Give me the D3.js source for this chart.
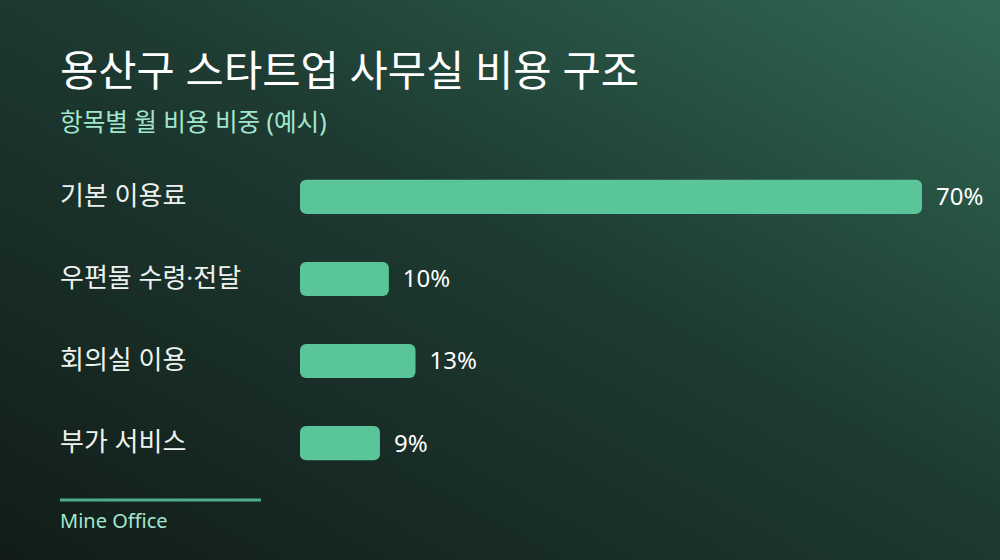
<!DOCTYPE html>
<html>
<head>
<meta charset="utf-8">
<script src="https://cdn.jsdelivr.net/npm/d3@7"></script>
<style>
  html, body { margin: 0; padding: 0; background: #13211d; }
  svg { display: block; font-family: "Noto Sans", "Noto Sans CJK KR", sans-serif; }
</style>
</head>
<body>
<div id="chart"></div>
<script>
// chart data
const categories = ['기본 이용료', '우편물 수령·전달', '회의실 이용', '부가 서비스'];
const shares = [70, 10, 13, 9];
const titleText = '용산구 스타트업 사무실 비용 구조';
const subtitleText = '항목별 월 비용 비중 (예시)';
const sourceText = 'Mine Office';

const width = 1000, height = 560;

const svg = d3.select('#chart')
    .append('svg')
    .attr('width', width)
    .attr('height', height);

// background gradient, lighter at top right
const defs = svg.append('defs');
const bg = defs.append('linearGradient')
    .attr('id', 'bg')
    .attr('x1', '1').attr('y1', '0')
    .attr('x2', '0').attr('y2', '1');
bg.append('stop').attr('offset', '0%').attr('stop-color', '#306853');
bg.append('stop').attr('offset', '45%').attr('stop-color', '#1e3b32');
bg.append('stop').attr('offset', '100%').attr('stop-color', '#111c18');

svg.append('rect')
    .attr('width', width)
    .attr('height', height)
    .attr('fill', 'url(#bg)');

svg.append('text')
    .attr('x', 60).attr('y', 86)
    .attr('fill', '#ffffff')
    .attr('font-size', 41.6)
    .attr('font-weight', 400)
    .text(titleText);

svg.append('text')
    .attr('x', 60).attr('y', 131)
    .attr('fill', '#a3e6cf')
    .attr('font-size', 24.6)
    .text(subtitleText);

// scales
const x = d3.scaleLinear()
    .domain([0, 70])
    .range([300, 922]);

const y = d3.scaleBand()
    .domain(categories)
    .range([156, 484])
    .paddingInner(0.585)
    .paddingOuter(0.29);

const rows = svg.append('g')
    .selectAll('g')
    .data(categories.map((c, i) => ({ name: c, value: shares[i] })))
    .join('g');

rows.append('rect')
    .attr('x', x(0))
    .attr('y', d => y(d.name))
    .attr('width', d => x(d.value) - x(0))
    .attr('height', y.bandwidth())
    .attr('rx', 6)
    .attr('fill', '#5bc59a');

rows.append('text')
    .attr('x', 60)
    .attr('y', d => y(d.name) + y.bandwidth() / 2)
    .attr('dy', '0.3em')
    .attr('fill', '#eef3ef')
    .attr('font-size', 26)
    .text(d => d.name);

rows.append('text')
    .attr('x', d => x(d.value) + 14)
    .attr('y', d => y(d.name) + y.bandwidth() / 2)
    .attr('dy', '0.35em')
    .attr('fill', '#ffffff')
    .attr('font-size', 24)
    .text(d => d.value + '%');

// footer
svg.append('line')
    .attr('x1', 60).attr('x2', 261)
    .attr('y1', 500).attr('y2', 500)
    .attr('stroke', '#4fae8a')
    .attr('stroke-width', 3);

svg.append('text')
    .attr('x', 60).attr('y', 528)
    .attr('fill', '#a3e6cf')
    .attr('font-size', 20)
    .text(sourceText);
</script>
</body>
</html>
